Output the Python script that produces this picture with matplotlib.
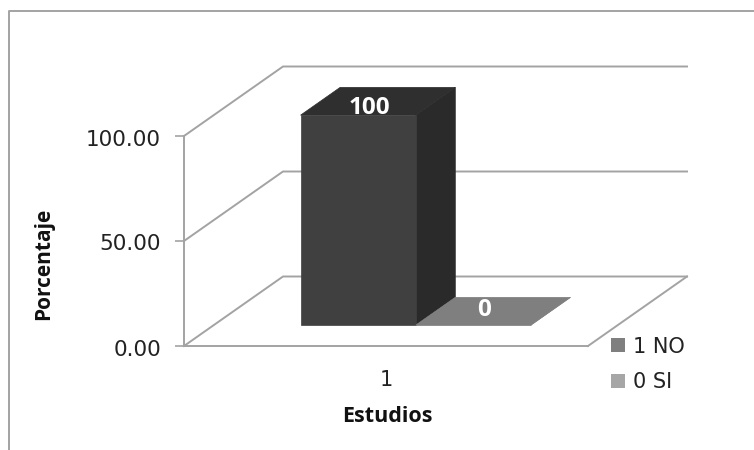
import matplotlib
matplotlib.use('Agg')
import matplotlib.pyplot as plt
from matplotlib.lines import Line2D
from matplotlib.patches import Patch, Polygon
from matplotlib.transforms import ScaledTranslation

categories = ['1']
series_names = ['1 NO', '0 SI']
bar_values = [100, 0]
bar_labels = ['100', '0']
y_ticks = [0, 50, 100]
y_title = 'Porcentaje'
x_title = 'Estudios'

W, H = 754, 450
GRID = '#a3a3a3'

# Fake 3D: depth 1 is the back wall, shifted right and up from the front plane
depth_dx = 99 / 404
depth_dy = 69.5 / 210 * 100
bar_near, bar_far = 0.30, 0.70
bar_left = 0.215
bar_width = 0.285
label_depth = 0.41

def proj(x, y, d):
    return x + d * depth_dx, y + d * depth_dy

def draw_bar(ax, x0, x1, v, front, top, side):
    near = [proj(x0, 0, bar_near), proj(x1, 0, bar_near),
            proj(x1, v, bar_near), proj(x0, v, bar_near)]
    roof = [proj(x0, v, bar_near), proj(x1, v, bar_near),
            proj(x1, v, bar_far), proj(x0, v, bar_far)]
    right = [proj(x1, 0, bar_near), proj(x1, 0, bar_far),
             proj(x1, v, bar_far), proj(x1, v, bar_near)]
    for pts, c in [(right, side), (roof, top), (near, front)]:
        ax.add_patch(Polygon(pts, closed=True, facecolor=c, edgecolor=c,
                             linewidth=0.5, clip_on=False, zorder=3))

fig = plt.figure(figsize=(W / 100, H / 100), dpi=100)
ax = fig.add_axes([184 / W, (H - 346) / H, 404 / W, 210 / H])
ax.set_xlim(0, 1)
ax.set_ylim(0, 100)

# outer chart frame, runs off the right and bottom edges
fig.add_artist(Line2D([1, 8.5 / W, 8.5 / W], [1 - 10.5 / H, 1 - 10.5 / H, 0],
                      color=GRID, linewidth=1.4))

# walls and floor
for t in y_ticks:
    xs = [0, proj(0, t, 1)[0], proj(1, t, 1)[0]]
    ys = [t, proj(0, t, 1)[1], proj(1, t, 1)[1]]
    ax.plot(xs, ys, color=GRID, linewidth=1.4, clip_on=False, zorder=1)
ax.plot([1, proj(1, 0, 1)[0]], [0, proj(1, 0, 1)[1]], color=GRID,
        linewidth=1.4, clip_on=False, zorder=1)

draw_bar(ax, bar_left, bar_left + bar_width, bar_values[0],
         '#404040', '#2f2f2f', '#2a2a2a')
draw_bar(ax, bar_left + bar_width, bar_left + 2 * bar_width, bar_values[1],
         '#7f7f7f', '#7f7f7f', '#7f7f7f')

# value labels sit on the top face of each bar; the flat one is nudged up a bit
label_lift = [0, 5.5]
for i, v in enumerate(bar_values):
    cx = bar_left + bar_width * (i + 0.5)
    ax.annotate(bar_labels[i], proj(cx, v, label_depth), xytext=(0, label_lift[i]),
                textcoords='offset points', color='white', fontsize=17.5,
                fontweight='bold', family='Open Sans', ha='center', va='center',
                annotation_clip=False, zorder=5)

for s in ['top', 'right']:
    ax.spines[s].set_visible(False)
for s in ['left', 'bottom']:
    ax.spines[s].set_color(GRID)
    ax.spines[s].set_linewidth(1.4)

ax.set_yticks(y_ticks)
ax.set_yticklabels(['%.2f' % t for t in y_ticks], fontsize=15.5, color='#222222')
ax.tick_params(axis='y', length=6.5, width=1.2, color=GRID, pad=10)
down = ScaledTranslation(0, -1.5 / 100, fig.dpi_scale_trans)
for lab in ax.get_yticklabels():
    lab.set_transform(lab.get_transform() + down)
ax.set_xticks([0.5])
ax.set_xticklabels(categories, fontsize=15, color='#222222')
ax.tick_params(axis='x', length=0, pad=17)

fig.text(387 / W, 1 - 417 / H, x_title, fontsize=15.5, fontweight='bold',
         family='Open Sans', color='#111111', ha='center', va='center')
fig.text(44 / W, 1 - 264 / H, y_title, fontsize=15, fontweight='bold',
         family='Open Sans', color='#111111', rotation=90, ha='center', va='center')

handles = [Patch(facecolor='#7f7f7f', label=series_names[0]),
           Patch(facecolor='#a6a6a6', label=series_names[1])]
fig.legend(handles=handles, loc='center left', bbox_to_anchor=(611 / W, 1 - 364.5 / H),
           frameon=False, fontsize=15, handlelength=0.67, handleheight=0.67,
           handletextpad=0.38, labelspacing=0.76, borderpad=0, borderaxespad=0,
           labelcolor='#222222')

fig.savefig('out.png', dpi=100)
